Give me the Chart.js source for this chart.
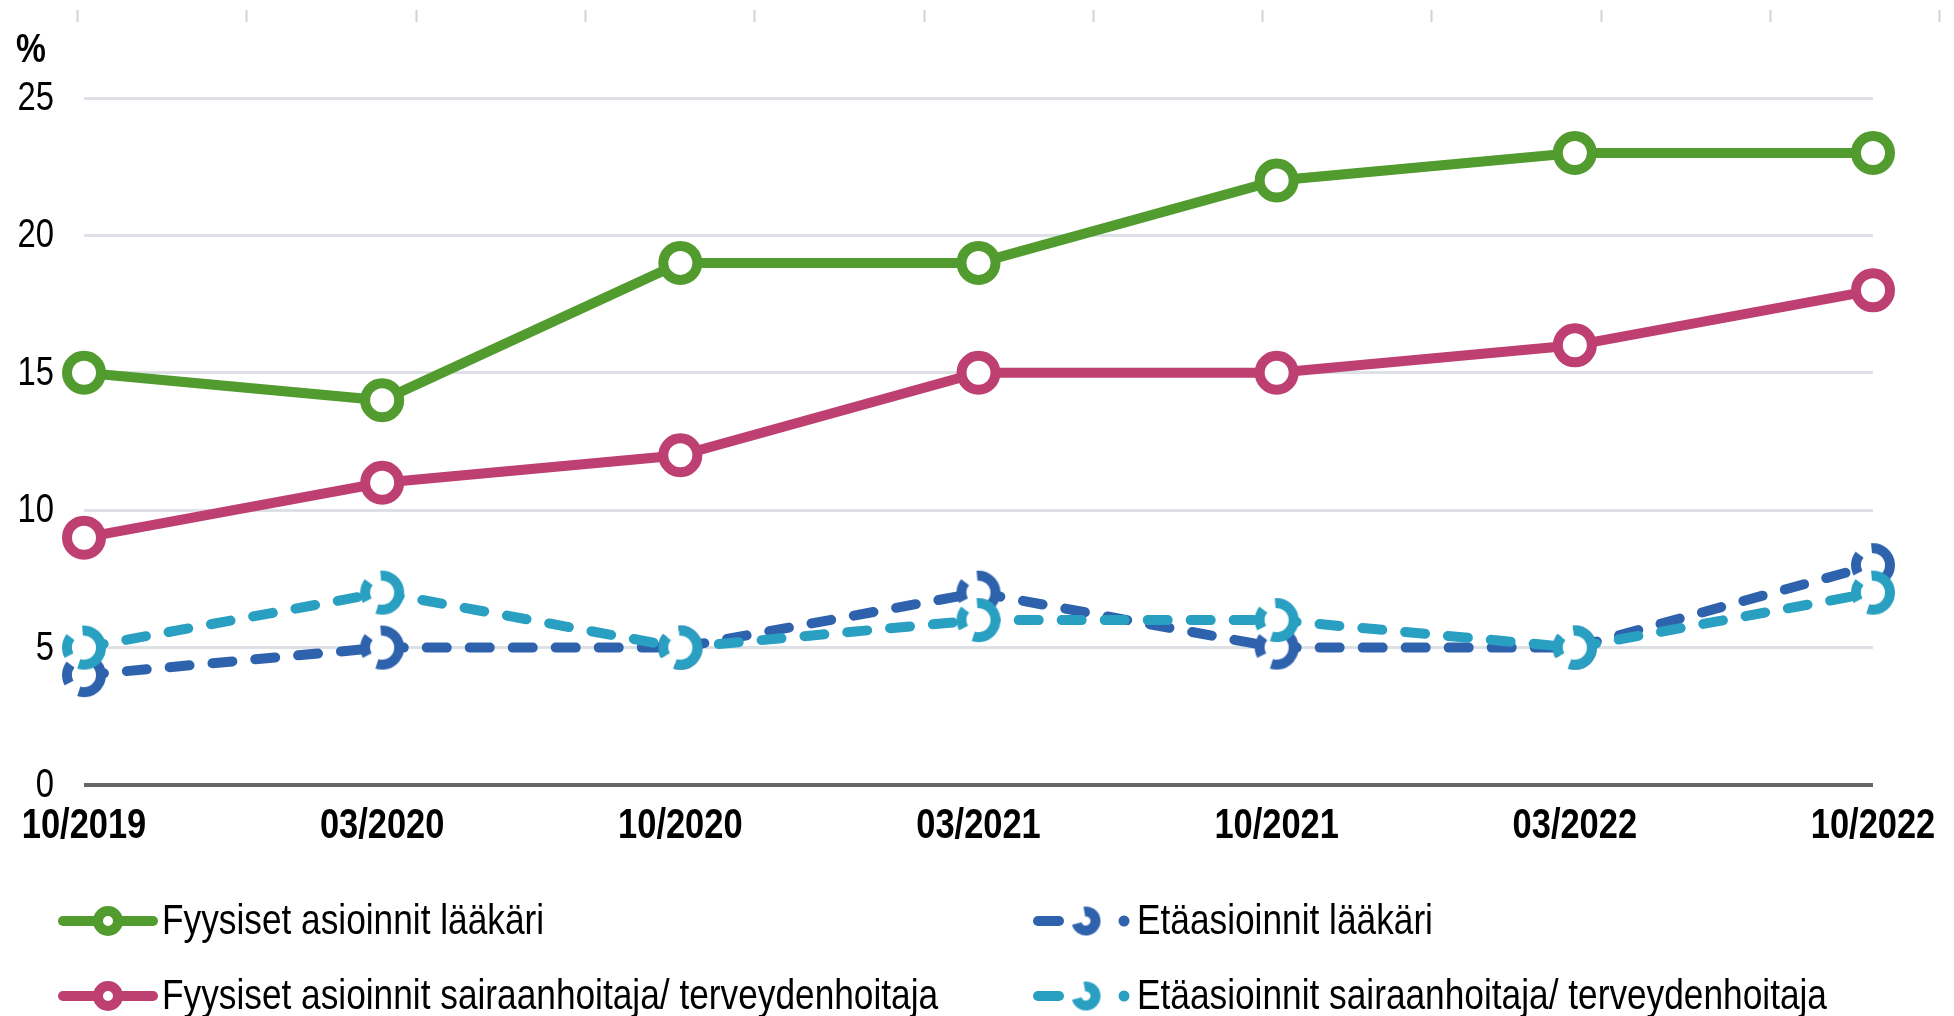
<!DOCTYPE html>
<html lang="fi">
<head>
<meta charset="utf-8">
<title>Asioinnit</title>
<script src="https://cdn.jsdelivr.net/npm/chart.js@4.4.1/dist/chart.umd.min.js"></script>
<style>
  html, body { margin: 0; padding: 0; background: #fff; overflow: hidden; }
  #wrap { width: 1954px; height: 1016px; position: relative; }
</style>
</head>
<body>
<div id="wrap"><canvas id="chart"></canvas></div>
<script>
// ── Data ──────────────────────────────────────────────────────────
const periods = ['10/2019', '03/2020', '10/2020', '03/2021', '10/2021', '03/2022', '10/2022'];
const yTicks = [0, 5, 10, 15, 20, 25];

const fyysisetLaakari = [15, 14, 19, 19, 22, 23, 23];
const fyysisetHoitaja = [9, 11, 12, 15, 15, 16, 18];
const etaLaakari = [4, 5, 5, 7, 5, 5, 8];
const etaHoitaja = [5, 7, 5, 6, 6, 5, 7];

const labels = {
    fyysisetLaakari: 'Fyysiset asioinnit lääkäri',
    fyysisetHoitaja: 'Fyysiset asioinnit sairaanhoitaja/ terveydenhoitaja',
    etaLaakari: 'Etäasioinnit lääkäri',
    etaHoitaja: 'Etäasioinnit sairaanhoitaja/ terveydenhoitaja'
};

const GREEN = '#519b2f';
const PINK = '#be3f72';
const BLUE = '#2f62ad';
const CYAN = '#29a0c1';

const FONT = "'Liberation Sans', Arial, sans-serif";
const NARROW = 0.82;   // the original uses a narrow face; squeeze the regular one
Chart.defaults.font.family = FONT;
Chart.defaults.color = '#000';

function narrowText(ctx, text, x, y, align, font) {
    ctx.save();
    ctx.font = font;
    ctx.fillStyle = '#000';
    ctx.textAlign = align;
    ctx.textBaseline = 'middle';
    ctx.translate(x, y);
    ctx.scale(NARROW, 1);
    ctx.fillText(text, 0, 0);
    ctx.restore();
}

// ── Broken ring markers (canvas images used as pointStyle) ────────
// arcs: list of [startDeg, endDeg], 0 = right, 90 = bottom
function brokenRing(color, r, bw, arcs) {
    const size = Math.ceil(2 * (r + bw / 2)) + 2;
    const c = document.createElement('canvas');
    c.width = c.height = size;
    const g = c.getContext('2d');
    const m = size / 2;
    g.fillStyle = '#fff';
    g.beginPath(); g.arc(m, m, r, 0, Math.PI * 2); g.fill();
    g.strokeStyle = color;
    g.lineWidth = bw;
    arcs.forEach(([a, b]) => {
        g.beginPath();
        g.arc(m, m, r, a * Math.PI / 180, b * Math.PI / 180);
        g.stroke();
    });
    return c;
}

const bigArcs = [[-95, 108], [152, 218]];
const smallArcs = [[-100, 165]];
const blueRing = brokenRing(BLUE, 17, 10, bigArcs);
const cyanRing = brokenRing(CYAN, 17, 10, bigArcs);
const blueRingSmall = brokenRing(BLUE, 9.5, 10, smallArcs);
const cyanRingSmall = brokenRing(CYAN, 9.5, 10, smallArcs);

function solidSeries(label, data, color, order) {
    return {
        label, data, order,
        borderColor: color, borderWidth: 10,
        pointStyle: 'circle', pointRadius: 17, pointBorderWidth: 10,
        pointBorderColor: color, pointBackgroundColor: '#fff',
        tension: 0, clip: false
    };
}

function dashedSeries(label, data, color, ring, order) {
    return {
        label, data, order,
        borderColor: color, borderWidth: 10,
        borderDash: [20, 23], borderCapStyle: 'round',
        pointStyle: ring, pointRadius: 17,
        pointBorderColor: color, pointBackgroundColor: '#fff',
        tension: 0, clip: false
    };
}

// ── Extras: faint top ticks, axis texts, "%" label, legend ───────
const extrasPlugin = {
    id: 'extras',
    beforeDraw(chart) {
        const ctx = chart.ctx;
        ctx.save();
        ctx.strokeStyle = '#d3d3d3';
        ctx.lineWidth = 2;
        for (let i = 0; i < 12; i++) {
            const x = Math.round(77 + i * 169.3) + 0.5;
            ctx.beginPath(); ctx.moveTo(x, 10); ctx.lineTo(x, 22); ctx.stroke();
        }
        ctx.restore();
    },
    afterDraw(chart) {
        const ctx = chart.ctx;
        const xs = chart.scales.x, ys = chart.scales.y;

        // axis labels
        xs.ticks.forEach((t, i) => {
            narrowText(ctx, xs.getLabelForValue(t.value), xs.getPixelForTick(i),
                chart.chartArea.bottom + 41, 'center', `bold 42px ${FONT}`);
        });
        ys.ticks.forEach(t => {
            narrowText(ctx, String(t.value), chart.chartArea.left - 30,
                ys.getPixelForValue(t.value) + 1, 'right', `40px ${FONT}`);
        });
        narrowText(ctx, '%', 16, 51, 'left', `bold 41px ${FONT}`);

        // legend, two columns
        const items = [
            { ds: 0, col: 0, row: 0 },
            { ds: 2, col: 1, row: 0 },
            { ds: 1, col: 0, row: 1 },
            { ds: 3, col: 1, row: 1 }
        ];
        const colX = [58, 1033];
        const rowY = [921, 996];
        items.forEach(it => {
            const d = chart.data.datasets[it.ds];
            const x0 = colX[it.col], y = rowY[it.row];
            ctx.save();
            ctx.strokeStyle = d.borderColor;
            ctx.fillStyle = d.borderColor;
            ctx.lineWidth = 10;
            ctx.lineCap = 'round';
            if (d.borderDash) {
                ctx.beginPath(); ctx.moveTo(x0 + 5, y); ctx.lineTo(x0 + 26, y); ctx.stroke();
                const img = d.borderColor === BLUE ? blueRingSmall : cyanRingSmall;
                ctx.drawImage(img, x0 + 53 - img.width / 2, y - img.height / 2);
                ctx.beginPath(); ctx.arc(x0 + 91, y, 5.5, 0, Math.PI * 2); ctx.fill();
            } else {
                ctx.beginPath(); ctx.moveTo(x0 + 5, y); ctx.lineTo(x0 + 95, y); ctx.stroke();
                ctx.lineWidth = 10;
                ctx.fillStyle = '#fff';
                ctx.beginPath(); ctx.arc(x0 + 50, y, 10, 0, Math.PI * 2); ctx.fill(); ctx.stroke();
            }
            ctx.restore();
            narrowText(ctx, d.label, x0 + 104, y + 1, 'left', `43px ${FONT}`);
        });
    }
};

// ── Chart ─────────────────────────────────────────────────────────
new Chart(document.getElementById('chart'), {
    type: 'line',
    data: {
        labels: periods,
        datasets: [
            solidSeries(labels.fyysisetLaakari, fyysisetLaakari, GREEN, 0),
            solidSeries(labels.fyysisetHoitaja, fyysisetHoitaja, PINK, 1),
            dashedSeries(labels.etaLaakari, etaLaakari, BLUE, blueRing, 3),
            dashedSeries(labels.etaHoitaja, etaHoitaja, CYAN, cyanRing, 2)
        ]
    },
    options: {
        responsive: true,
        maintainAspectRatio: false,
        animation: false,
        layout: { padding: { top: 98, right: 81, bottom: 161, left: 0 } },
        plugins: { legend: { display: false }, tooltip: { enabled: false } },
        scales: {
            x: {
                type: 'category',
                offset: false,
                grid: { display: false },
                border: { display: false },
                ticks: { display: false, autoSkip: false },
                afterFit: s => { s.height = 70; }
            },
            y: {
                min: 0, max: 25,
                afterBuildTicks: s => { s.ticks = yTicks.map(v => ({ value: v })); },
                grid: {
                    drawTicks: false,
                    color: c => c.tick.value === 0 ? '#666666' : '#dde1e5',
                    lineWidth: c => c.tick.value === 0 ? 4 : 3
                },
                border: { display: false },
                ticks: { display: false },
                afterFit: s => { s.width = 84; }
            }
        }
    },
    plugins: [extrasPlugin]
});
</script>
</body>
</html>
